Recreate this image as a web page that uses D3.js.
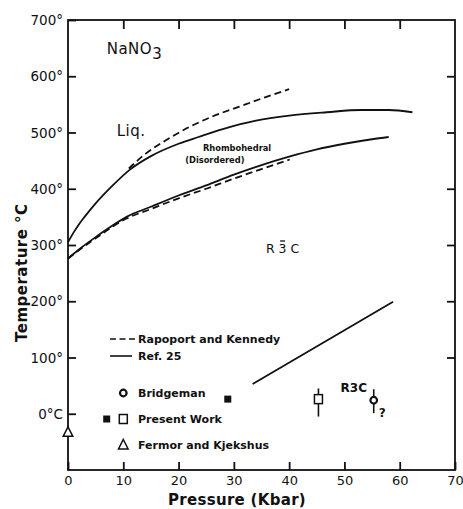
<!DOCTYPE html>
<html>
<head>
<meta charset="utf-8">
<script src="https://cdn.jsdelivr.net/npm/d3@7"></script>
<style>
  html, body { margin: 0; padding: 0; background: #fff; }
  svg { display: block; }
  text { fill: #111; }
</style>
</head>
<body>
<svg id="chart" width="463" height="509"></svg>
<script>
// ---- data ----
const xTicks = [0, 10, 20, 30, 40, 50, 60, 70];
const yTicks = [0, 100, 200, 300, 400, 500, 600, 700];
const yTickLabels = ["0°C", "100°", "200°", "300°", "400°", "500°", "600°", "700°"];

// Ref. 25 melting curve (solid)
const meltSolidP = [0, 1, 2, 3, 5, 8, 11.2, 15, 20, 23.6, 28, 34, 40, 46.8, 53, 58, 62.3];
const meltSolidT = [305, 322, 337, 350, 374, 405, 434, 458, 480, 492, 506, 521, 530, 536, 540, 540, 536];
// Rapoport and Kennedy melting curve (dashed)
const meltDashP = [11, 14, 18, 22, 26, 31, 35.5, 40];
const meltDashT = [436, 462, 488, 510, 528, 546, 562, 577];
// Ref. 25 transition curve (solid)
const transSolidP = [0, 2.5, 5, 7.5, 10.6, 15, 20, 25, 30, 35, 40, 45, 50, 55, 58];
const transSolidT = [276, 296, 314, 331, 350, 368, 388, 406, 425, 442, 457, 470, 480, 488, 492];
// Rapoport and Kennedy transition curve (dashed)
const transDashP = [0, 5, 10.6, 15, 20, 25, 30, 35, 40.1];
const transDashT = [276, 312, 347, 364, 383, 400, 418, 435, 452];
// R3C boundary (solid)
const lowLineP = [33.4, 58.8];
const lowLineT = [53, 199];

// points
const presentFilledP = [28.9], presentFilledT = [26];
const presentOpenP = [45.3], presentOpenT = [26], presentOpenErrLo = [-5], presentOpenErrHi = [45];
const bridgemanP = [55.3], bridgemanT = [24], bridgemanErrLo = [1], bridgemanErrHi = [43.5];
const fermorP = [0], fermorT = [-33];

const legendItems = ["Rapoport and Kennedy", "Ref. 25", "Bridgeman", "Present Work", "Fermor and Kjekshus"];

// ---- chart ----
const svg = d3.select("#chart");
const L = 68, R = 455, T = 20, B = 470;
const x = d3.scaleLinear().domain([0, 70]).range([L, R]);
const y = d3.scaleLinear().domain([-100, 700]).range([B, T]);
const ink = "#111";
const font = "'DejaVu Sans', sans-serif";

// frame
const axisW = 1.8;
svg.append("rect").attr("x", L).attr("y", T).attr("width", R - L).attr("height", B - T)
  .attr("fill", "none").attr("stroke", ink).attr("stroke-width", axisW);

// axes with inward ticks
const gBottom = svg.append("g").attr("transform", `translate(0,${B})`)
  .call(d3.axisBottom(x).tickValues(xTicks).tickSize(-8).tickPadding(6).tickFormat(d3.format("d")));
const gTop = svg.append("g").attr("transform", `translate(0,${T})`)
  .call(d3.axisTop(x).tickValues(xTicks.slice(1, -1)).tickSize(-9).tickFormat(""));
const gLeft = svg.append("g").attr("transform", `translate(${L},0)`)
  .call(d3.axisLeft(y).tickValues(yTicks).tickSize(-8).tickPadding(5).tickFormat((d, i) => yTickLabels[i]));
const gRight = svg.append("g").attr("transform", `translate(${R},0)`)
  .call(d3.axisRight(y).tickValues(yTicks.slice(1, -1)).tickSize(-8).tickFormat(""));
[gBottom, gTop, gLeft, gRight].forEach(g => {
  g.select(".domain").remove();
  g.selectAll(".tick line").attr("stroke", ink).attr("stroke-width", 1.8);
  g.selectAll("text").attr("font-family", font).attr("font-size", 13).attr("fill", ink);
});
gLeft.selectAll(".tick text").attr("dy", "0.35em").attr("font-size", 13.5);

// axis titles
svg.append("text").attr("x", 237).attr("y", 505)
  .attr("text-anchor", "middle").attr("font-family", font).attr("font-weight", "bold")
  .attr("font-size", 15).attr("letter-spacing", 0.3).text("Pressure (Kbar)");
svg.append("text").attr("transform", "translate(27,342) rotate(-90)")
  .attr("text-anchor", "start").attr("font-family", font).attr("font-weight", "bold")
  .attr("font-size", 15).attr("letter-spacing", 0.5).text("Temperature  °C");

// curves
const line = d3.line().curve(d3.curveMonotoneX);
const mk = (P, Tv) => P.map((p, i) => [x(p), y(Tv[i])]);
const curves = [
  [meltSolidP, meltSolidT, null],
  [meltDashP, meltDashT, "7,4"],
  [transSolidP, transSolidT, null],
  [transDashP, transDashT, "7,4"],
  [lowLineP, lowLineT, null]
];
curves.forEach(([P, Tv, dash]) => {
  svg.append("path").attr("d", line(mk(P, Tv))).attr("fill", "none")
    .attr("stroke", ink).attr("stroke-width", 1.8).attr("stroke-dasharray", dash);
});

// markers
function errBar(px, lo, hi) {
  svg.append("line").attr("x1", x(px)).attr("x2", x(px)).attr("y1", y(lo)).attr("y2", y(hi))
    .attr("stroke", ink).attr("stroke-width", 1.6);
}
function filledSquare(cx, cy) {
  svg.append("rect").attr("x", cx - 3.5).attr("y", cy - 3.5).attr("width", 7).attr("height", 7).attr("fill", ink);
}
function openSquare(cx, cy) {
  svg.append("rect").attr("x", cx - 4).attr("y", cy - 4.5).attr("width", 8).attr("height", 9)
    .attr("fill", "#fff").attr("stroke", ink).attr("stroke-width", 1.5);
}
function openCircle(cx, cy) {
  svg.append("circle").attr("cx", cx).attr("cy", cy).attr("r", 3.3)
    .attr("fill", "#fff").attr("stroke", ink).attr("stroke-width", 2.2);
}
function triangle(cx, cy) {
  svg.append("path").attr("d", `M${cx},${cy - 5.5}L${cx + 4.8},${cy + 4}L${cx - 4.8},${cy + 4}Z`)
    .attr("fill", "#fff").attr("stroke", ink).attr("stroke-width", 1.5);
}
presentFilledP.forEach((p, i) => filledSquare(x(p), y(presentFilledT[i])));
presentOpenP.forEach((p, i) => { errBar(p, presentOpenErrLo[i], presentOpenErrHi[i]); openSquare(x(p), y(presentOpenT[i])); });
bridgemanP.forEach((p, i) => { errBar(p, bridgemanErrLo[i], bridgemanErrHi[i]); openCircle(x(p), y(bridgemanT[i])); });
fermorP.forEach((p, i) => triangle(x(p), y(fermorT[i])));

// legend
const lgX = 138, lgFont = 11;
const lgY = [339, 356, 393, 419, 445];
svg.append("line").attr("x1", 110).attr("x2", 135).attr("y1", lgY[0]).attr("y2", lgY[0])
  .attr("stroke", ink).attr("stroke-width", 1.6).attr("stroke-dasharray", "6,3.5");
svg.append("line").attr("x1", 110).attr("x2", 132).attr("y1", lgY[1]).attr("y2", lgY[1])
  .attr("stroke", ink).attr("stroke-width", 1.6);
openCircle(123.3, lgY[2]);
filledSquare(106.7, lgY[3]);
openSquare(123.3, lgY[3]);
triangle(123.3, lgY[4]);
legendItems.forEach((t, i) => {
  svg.append("text").attr("x", lgX).attr("y", lgY[i]).attr("dy", "0.35em")
    .attr("font-family", font).attr("font-weight", "bold").attr("font-size", lgFont).text(t);
});

// annotations
const nano = svg.append("text").attr("x", x(7)).attr("y", y(640))
  .attr("font-family", font).attr("font-size", 15).attr("letter-spacing", 0.5);
nano.append("tspan").text("NaNO");
nano.append("tspan").attr("dy", 5).text("3");
svg.append("text").attr("x", x(8.8)).attr("y", y(494)).attr("font-family", font)
  .attr("font-size", 15).attr("letter-spacing", 0.5).text("Liq.");
svg.append("text").attr("x", x(24.4)).attr("y", y(467.7)).attr("font-family", font)
  .attr("font-weight", "bold").attr("font-size", 8.3).text("Rhombohedral");
svg.append("text").attr("x", x(21.2)).attr("y", y(445)).attr("font-family", font)
  .attr("font-weight", "bold").attr("font-size", 8.3).text("(Disordered)");
// R 3-bar C
const r3c = svg.append("text").attr("x", x(35.8)).attr("y", y(285.8)).attr("font-family", font)
  .attr("font-size", 12.5).attr("xml:space", "preserve").text("R 3 C");
const bb = r3c.node().getBBox();
const rW = r3c.node().getSubStringLength(0, 2);
const threeW = r3c.node().getSubStringLength(2, 1);
svg.append("line").attr("x1", bb.x + rW + 1.5).attr("x2", bb.x + rW + threeW - 1.5)
  .attr("y1", y(285.8) - 12).attr("y2", y(285.8) - 12).attr("stroke", ink).attr("stroke-width", 1.3);
svg.append("text").attr("x", x(49.3)).attr("y", y(39)).attr("font-family", font)
  .attr("font-size", 12).attr("font-weight", "bold").text("R3C");
svg.append("text").attr("x", x(56.2)).attr("y", y(-5)).attr("font-family", font)
  .attr("font-size", 12).attr("font-weight", "bold").text("?");
</script>
</body>
</html>
